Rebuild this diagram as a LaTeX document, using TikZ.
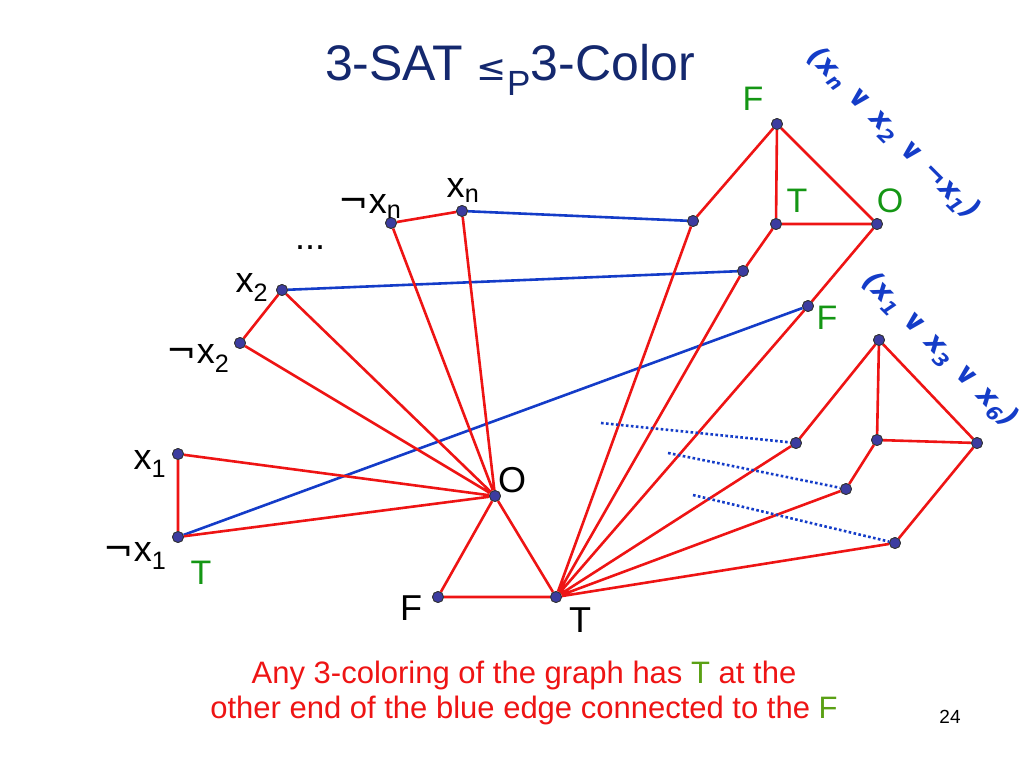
\documentclass[tikz,border=0pt]{standalone}
\usepackage{fontspec}
\setmainfont{Liberation Sans}
\newfontfamily\hand{DejaVu Sans}
\newcommand{\nt}{{\hand ¬}}
\newcommand{\vo}{{\hand ∨}}
\begin{document}
\begin{tikzpicture}[x=1pt,y=-1pt,
  v/.style={circle,fill={rgb,255:red,60;green,60;blue,160},draw=black!80,line width=0.8pt,inner sep=0pt,minimum size=11pt},
  re/.style={draw={rgb,255:red,238;green,20;blue,20},line width=2.6pt},
  be/.style={draw={rgb,255:red,20;green,60;blue,200},line width=2.6pt},
  de/.style={draw={rgb,255:red,20;green,60;blue,200},line width=2.6pt,dash pattern=on 2.6pt off 2.4pt},
  lab/.style={font=\fontsize{36}{38}\selectfont},
  gl/.style={font=\fontsize{34}{36}\selectfont,text={rgb,255:red,20;green,150;blue,20}},
  cl/.style={font=\hand\bfseries\itshape\fontsize{28}{30}\selectfont,text={rgb,255:red,20;green,60;blue,200},rotate=-45}]
\useasboundingbox (0,0) rectangle (1024,768);
\node[font=\fontsize{50}{54}\selectfont,text={rgb,255:red,20;green,40;blue,110}] (title) at (510,70) {3-SAT {\hand\fontsize{36}{40}\selectfont ≤}\textsubscript{P}3-Color};
\node[v] (nxn) at (391,223) {};
\node[v] (xn) at (462,211) {};
\node[v] (x2) at (282,290) {};
\node[v] (nx2) at (240,343) {};
\node[v] (x1) at (178,454) {};
\node[v] (nx1) at (178,537) {};
\node[v] (O) at (495,496) {};
\node[v] (F) at (438,597) {};
\node[v] (T) at (556,597) {};
\node[v] (a) at (693,221) {};
\node[v] (b) at (743,271) {};
\node[v] (c) at (808,306) {};
\node[v] (cF) at (777,124) {};
\node[v] (cT) at (776,224) {};
\node[v] (cO) at (877,224) {};
\node[v] (d) at (796,443) {};
\node[v] (e) at (846,489) {};
\node[v] (f) at (895,543) {};
\node[v] (dt) at (879,340) {};
\node[v] (dm) at (877,440) {};
\node[v] (dr) at (977,443) {};
\coordinate (p1) at (601,423);
\coordinate (p2) at (668,453);
\coordinate (p3) at (693,495);
\draw[be] (xn)--(a) (x2)--(b) (nx1)--(c);
\draw[re] (nxn)--(xn) (nxn)--(O) (xn)--(O) (x2)--(nx2) (nx2)--(O) (x2)--(O)
  (x1)--(nx1) (x1)--(O) (nx1)--(O) (O)--(F) (O)--(T) (F)--(T)
  (T)--(a) (T)--(b) (T)--(c) (T)--(d) (T)--(e) (T)--(f)
  (a)--(cF) (cF)--(cT) (cF)--(cO) (cT)--(cO) (b)--(cT) (c)--(cO)
  (d)--(dt) (dt)--(dm) (dt)--(dr) (dm)--(dr) (e)--(dm) (f)--(dr);
\draw[de] (p1)--(d) (p2)--(e) (p3)--(f);
\foreach \n in {nxn,xn,x2,nx2,x1,nx1,O,F,T,a,b,c,cF,cT,cO,d,e,f,dt,dm,dr}{\node[v] at (\n) {};}
\node[lab] (l1) at (370,206) {\nt x\textsubscript{n}};
\node[lab] (l2) at (463,190) {x\textsubscript{n}};
\node[lab] (l3) at (310,248) {...};
\node[lab] (l4) at (252,287) {x\textsubscript{2}};
\node[lab] (l5) at (198,358) {\nt x\textsubscript{2}};
\node[lab] (l6) at (150,464) {x\textsubscript{1}};
\node[lab] (l7) at (135,556) {\nt x\textsubscript{1}};
\node[gl] (l8) at (201,573) {T};
\node[lab] (l9) at (512,480) {O};
\node[lab] (l10) at (411,608) {F};
\node[lab] (l11) at (580,620) {T};
\node[gl] (l12) at (753,99) {F};
\node[gl] (l13) at (797,201) {T};
\node[gl] (l14) at (890,201) {O};
\node[gl] (l15) at (827,318) {F};
\node[cl] (c1) at (893,134) {(x\textsubscript{n} \vo{} x\textsubscript{2} \vo{} \nt x\textsubscript{1})};
\node[cl] (c2) at (940,350) {(x\textsubscript{1} \vo{} x\textsubscript{3} \vo{} x\textsubscript{6})};
\node[font=\fontsize{31}{33}\selectfont,text={rgb,255:red,238;green,20;blue,20},align=center] (bt) at (524,693)
  {Any 3-coloring of the graph has \textcolor[RGB]{90,160,20}{T} at the\\[2pt]other end of the blue edge connected to the \textcolor[RGB]{90,160,20}{F}};
\node[font=\fontsize{19}{20}\selectfont] (pg) at (950,717) {24};
\end{tikzpicture}
\end{document}
